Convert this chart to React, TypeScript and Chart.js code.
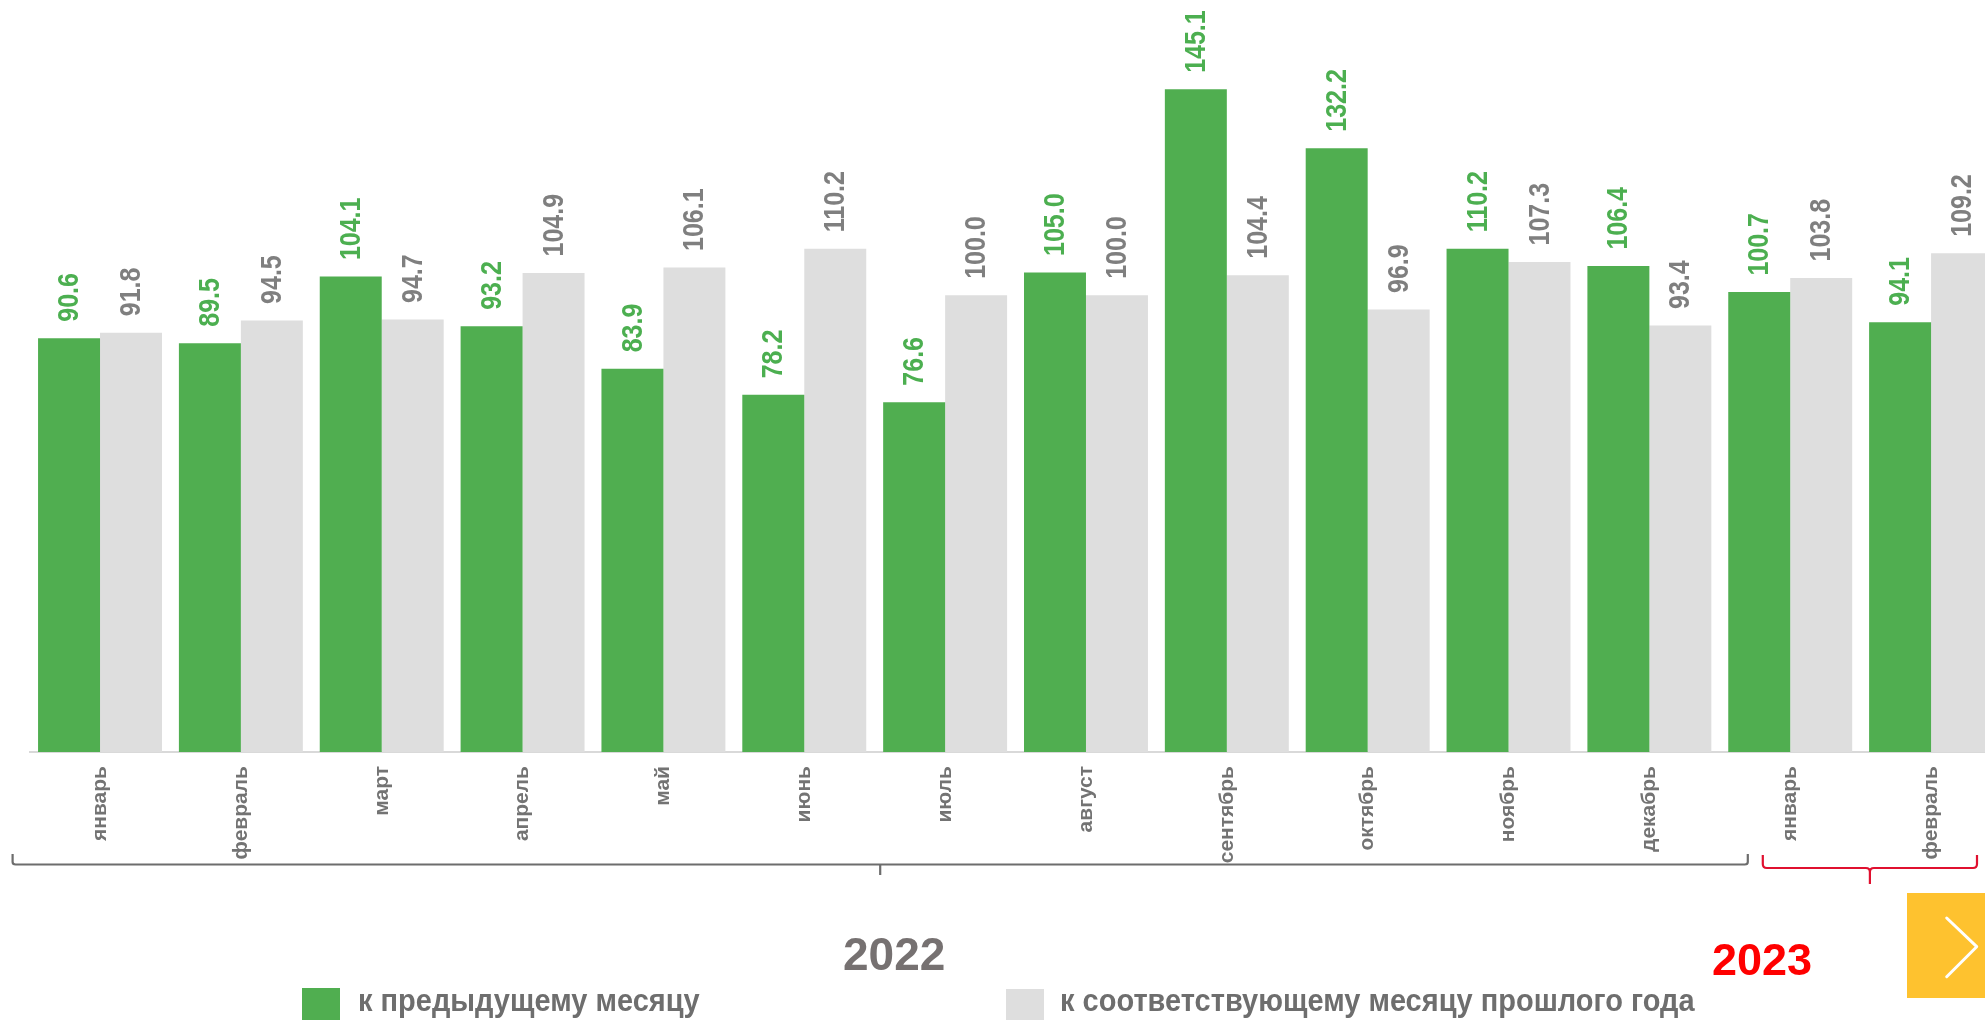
import React, { useEffect, useRef } from "react";
import { Chart, registerables } from "chart.js";

Chart.register(...registerables);

const months = ["январь", "февраль", "март", "апрель", "май", "июнь", "июль", "август", "сентябрь", "октябрь", "ноябрь", "декабрь", "январь", "февраль"];
const prevMonth = [90.6, 89.5, 104.1, 93.2, 83.9, 78.2, 76.6, 105.0, 145.1, 132.2, 110.2, 106.4, 100.7, 94.1];
const prevYearMonth = [91.8, 94.5, 94.7, 104.9, 106.1, 110.2, 100.0, 100.0, 104.4, 96.9, 107.3, 93.4, 103.8, 109.2];
const seriesNames = ["к предыдущему месяцу", "к соответствующему месяцу прошлого года"];
const years = ["2022", "2023"];

const FONT = '"Liberation Sans", Arial, sans-serif';
const GREEN = "#50AE50";
const GRAY_BAR = "#DEDEDE";

const valueLabels = {
  id: "valueLabels",
  afterDatasetsDraw(chart: any) {
    const ctx = chart.ctx;
    const colors = ["#4CAF50", "#7F7F7F"];
    chart.data.datasets.forEach((ds: any, di: number) => {
      const meta = chart.getDatasetMeta(di);
      meta.data.forEach((bar: any, i: number) => {
        ctx.save();
        ctx.translate(bar.x, bar.y - 16.5);
        ctx.rotate(-Math.PI / 2);
        ctx.scale(1, 1.15);
        ctx.font = `bold 25px ${FONT}`;
        ctx.fillStyle = colors[di];
        ctx.textAlign = "left";
        ctx.textBaseline = "middle";
        ctx.fillText(Number(ds.data[i]).toFixed(1), 0, 1);
        ctx.restore();
      });
    });
  },
};

const brackets = {
  id: "brackets",
  afterDraw(chart: any) {
    const ctx = chart.ctx;
    const x = chart.scales.x;
    const half = (x.getPixelForValue(1) - x.getPixelForValue(0)) / 2;
    // 2022 bracket
    const gl = x.getPixelForValue(0) - half - 17;
    const gr = x.getPixelForValue(11) + half + 28;
    const gm = (gl + gr) / 2;
    ctx.save();
    ctx.strokeStyle = "#6D6D6D";
    ctx.lineWidth = 2.2;
    ctx.lineJoin = "round";
    ctx.beginPath();
    ctx.moveTo(gl, 854);
    ctx.lineTo(gl, 862);
    ctx.quadraticCurveTo(gl, 864.5, gl + 3, 864.5);
    ctx.lineTo(gr - 3, 864.5);
    ctx.quadraticCurveTo(gr, 864.5, gr, 862);
    ctx.lineTo(gr, 854);
    ctx.stroke();
    ctx.beginPath();
    ctx.moveTo(gm, 864.5);
    ctx.lineTo(gm, 875);
    ctx.stroke();
    // 2023 bracket
    const rl = x.getPixelForValue(12) - half + 43;
    const rr = x.getPixelForValue(13) + half - 24.5;
    const rm = (rl + rr) / 2;
    ctx.strokeStyle = "#E0102F";
    ctx.lineWidth = 2.2;
    ctx.beginPath();
    ctx.moveTo(rl, 855);
    ctx.lineTo(rl, 864);
    ctx.quadraticCurveTo(rl, 868, rl + 4, 868);
    ctx.lineTo(rm - 4, 868);
    ctx.quadraticCurveTo(rm, 868, rm, 872);
    ctx.lineTo(rm, 884);
    ctx.moveTo(rm, 872);
    ctx.quadraticCurveTo(rm, 868, rm + 4, 868);
    ctx.lineTo(rr - 4, 868);
    ctx.quadraticCurveTo(rr, 868, rr, 864);
    ctx.lineTo(rr, 855);
    ctx.stroke();
    ctx.restore();
  },
};

export default function App() {
  const ref = useRef<HTMLCanvasElement>(null);
  useEffect(() => {
    document.body.style.margin = "0";
    document.documentElement.style.overflow = "hidden";
    const chart = new Chart(ref.current as HTMLCanvasElement, {
      type: "bar",
      data: {
        labels: months,
        datasets: [
          { label: seriesNames[0], data: prevMonth, backgroundColor: GREEN, barPercentage: 1, categoryPercentage: 0.88 },
          { label: seriesNames[1], data: prevYearMonth, backgroundColor: GRAY_BAR, barPercentage: 1, categoryPercentage: 0.88 },
        ],
      },
      options: {
        responsive: false,
        animation: false,
        layout: { padding: { left: 29.6, right: 8.5, top: 21.3, bottom: 98 } },
        plugins: { legend: { display: false }, tooltip: { enabled: false } },
        scales: {
          x: {
            grid: { display: false, drawTicks: false },
            border: { display: true, color: "#D9D9D9", width: 2 },
            ticks: {
              autoSkip: false,
              minRotation: 90,
              maxRotation: 90,
              padding: 14,
              color: "#737373",
              font: { family: FONT, size: 21, weight: "bold" },
            },
            afterFit(scale: any) {
              scale.height = 170;
            },
          },
          y: { display: false, min: 0, max: 160 },
        },
      },
      plugins: [valueLabels, brackets],
    });
    return () => chart.destroy();
  }, []);

  const txt = (extra: any) => ({
    position: "absolute" as const,
    fontFamily: FONT,
    fontWeight: "bold" as const,
    lineHeight: 1,
    whiteSpace: "nowrap" as const,
    ...extra,
  });

  return (
    <div style={{ position: "fixed", left: 0, top: 0, width: 1985, height: 1020, overflow: "hidden", background: "#fff" }}>
      <canvas ref={ref} width={2010} height={1020} style={{ position: "absolute", left: 0, top: 0, width: 2010, height: 1020 }} />
      <div style={txt({ left: 843, top: 931, fontSize: 46, color: "#767171" })}>{years[0]}</div>
      <div style={txt({ left: 1712, top: 937, fontSize: 45, color: "#FF0000" })}>{years[1]}</div>
      <div style={{ position: "absolute", left: 302, top: 988, width: 38, height: 40, background: GREEN }} />
      <div style={txt({ left: 358, top: 986.5, fontSize: 29, color: "#6E6E6E", transform: "scaleY(1.09)", transformOrigin: "0 24.5px" })}>{seriesNames[0]}</div>
      <div style={{ position: "absolute", left: 1006, top: 989, width: 38, height: 40, background: GRAY_BAR }} />
      <div style={txt({ left: 1060, top: 986.5, fontSize: 29, color: "#6E6E6E", transform: "scaleY(1.09)", transformOrigin: "0 24.5px" })}>{seriesNames[1]}</div>
      <div style={{ position: "absolute", left: 1907, top: 893, width: 90, height: 105, background: "#FEC22F" }}>
        <svg width={90} height={105} style={{ position: "absolute", left: 0, top: 0 }}>
          <polyline points="39.7,25 69.7,53.7 39.7,83.7" fill="none" stroke="#FFFFFF" strokeWidth={3} strokeLinecap="round" strokeLinejoin="round" />
        </svg>
      </div>
    </div>
  );
}
